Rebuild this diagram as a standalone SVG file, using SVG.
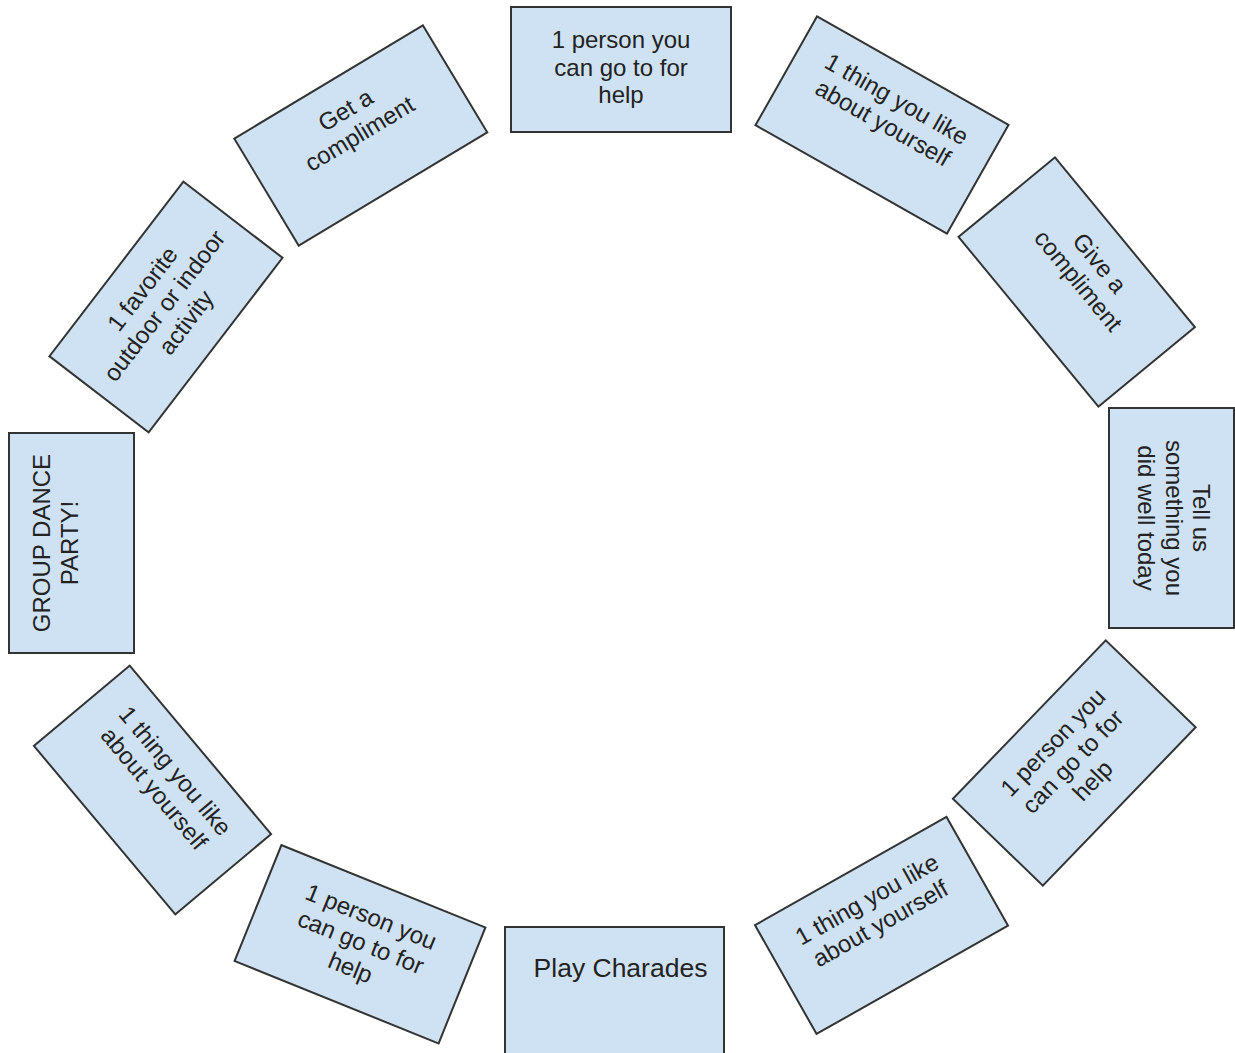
<svg xmlns="http://www.w3.org/2000/svg" width="1235" height="1053" viewBox="0 0 1235 1053">
<style>
.card{fill:#cfe2f3;stroke:#333333;stroke-width:2}
.t{font-family:"Liberation Sans",Arial,sans-serif;font-size:24px;fill:#222222;text-anchor:middle}
</style>
<rect x="0" y="0" width="1235" height="1053" fill="#ffffff"/>
<g id="connectors"/>
<g id="n1" transform="translate(621,69.5)">
<rect class="card" x="-110" y="-62.5" width="220" height="125"/>
<text class="t"><tspan x="0" y="-21.5">1 person you</tspan><tspan x="0" y="6">can go to for</tspan><tspan x="0" y="33.5">help</tspan></text>
</g>
<g id="n2" transform="translate(882,125) rotate(29.5)">
<rect class="card" x="-110" y="-62.5" width="220" height="125"/>
<text class="t"><tspan x="0" y="-21.5">1 thing you like</tspan><tspan x="0" y="6">about yourself</tspan></text>
</g>
<g id="n3" transform="translate(1076.7,282) rotate(50.5)">
<rect class="card" x="-110" y="-62.5" width="220" height="125"/>
<text class="t"><tspan x="0" y="-21.5">Give a</tspan><tspan x="0" y="6">compliment</tspan></text>
</g>
<g id="n4" transform="translate(1171.5,518) rotate(90)">
<rect class="card" x="-110" y="-62.5" width="220" height="125"/>
<text class="t"><tspan x="0" y="-21.5">Tell us</tspan><tspan x="0" y="6">something you</tspan><tspan x="0" y="33.5">did well today</tspan></text>
</g>
<g id="n5" transform="translate(1074.3,763) rotate(-46)">
<rect class="card" x="-110" y="-62.5" width="220" height="125"/>
<text class="t"><tspan x="0" y="-21.5">1 person you</tspan><tspan x="0" y="6">can go to for</tspan><tspan x="0" y="33.5">help</tspan></text>
</g>
<g id="n6" transform="translate(881.5,925.4) rotate(-29.5)">
<rect class="card" x="-110" y="-62.5" width="220" height="125"/>
<text class="t"><tspan x="0" y="-21.5">1 thing you like</tspan><tspan x="0" y="6">about yourself</tspan></text>
</g>
<g id="n7">
<rect class="card" x="505" y="927" width="219" height="140"/>
<text class="t" x="620.5" y="977" style="font-size:26.5px">Play Charades</text>
</g>
<g id="n8" transform="translate(360,944.3) rotate(22)">
<rect class="card" x="-110" y="-62.5" width="220" height="125"/>
<text class="t"><tspan x="0" y="-21.5">1 person you</tspan><tspan x="0" y="6">can go to for</tspan><tspan x="0" y="33.5">help</tspan></text>
</g>
<g id="n9" transform="translate(152.5,790) rotate(50)">
<rect class="card" x="-110" y="-62.5" width="220" height="125"/>
<text class="t"><tspan x="0" y="-21.5">1 thing you like</tspan><tspan x="0" y="6">about yourself</tspan></text>
</g>
<g id="n10" transform="translate(71.5,543) rotate(-90)">
<rect class="card" x="-110" y="-62.5" width="220" height="125"/>
<text class="t"><tspan x="0" y="-21.5">GROUP DANCE</tspan><tspan x="0" y="6">PARTY!</tspan></text>
</g>
<g id="n11" transform="translate(166,307) rotate(-52.5)">
<rect class="card" x="-110" y="-62.5" width="220" height="125"/>
<text class="t"><tspan x="0" y="-21.5">1 favorite</tspan><tspan x="0" y="6">outdoor or indoor</tspan><tspan x="0" y="33.5">activity</tspan></text>
</g>
<g id="n12" transform="translate(360.8,135.5) rotate(-31)">
<rect class="card" x="-110" y="-62.5" width="220" height="125"/>
<text class="t"><tspan x="0" y="-21.5">Get a</tspan><tspan x="0" y="6">compliment</tspan></text>
</g>
</svg>
